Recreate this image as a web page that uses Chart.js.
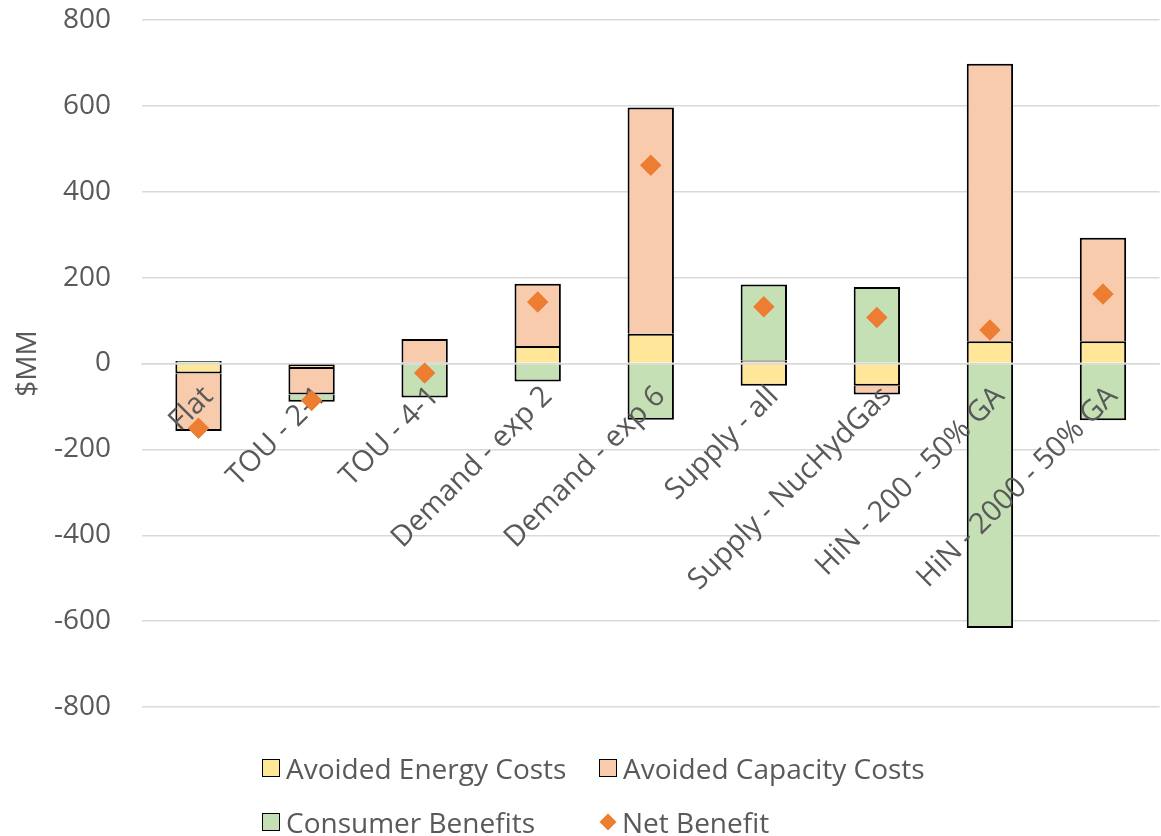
<!DOCTYPE html>
<html>
<head>
<meta charset="utf-8">
<script src="https://cdn.jsdelivr.net/npm/chart.js@4"></script>
<style>
  html, body { margin: 0; padding: 0; background: #fff; overflow: hidden; }
  #wrap { position: relative; width: 1170px; height: 836px; }
  #legend { position: absolute; left: 0; top: 0; width: 1161px; height: 836px; pointer-events: none;
            font-family: "Open Sans"; font-size: 28px; color: #595959; }
  .item { position: absolute; display: flex; align-items: center; white-space: nowrap; height: 36px; }
  .box { width: 18px; height: 18px; border: 1.5px solid #000; box-sizing: border-box; margin-right: 6px; }
  .diamond { width: 12px; height: 12px; transform: rotate(45deg); margin: 0 8px 0 3px; }
</style>
</head>
<body>
<div id="wrap">
  <canvas id="chart"></canvas>
  <div id="legend"></div>
</div>
<script>
const categories = ['Flat', 'TOU - 2-1', 'TOU - 4-1', 'Demand - exp 2', 'Demand - exp 6',
  'Supply - all', 'Supply - NucHydGas', 'HiN - 200 - 50% GA', 'HiN - 2000 - 50% GA'];
const avoidedEnergy = [-23, -13, 3, 41, 69, -52, -52, 52, 52];
const avoidedCapacity = [-134, -59, 54, 145, 527, 7, -20, 646, 241];
const consumerBenefits = [6, -17, -79, -42, -131, 177, 178, -616, -132];
const netBenefit = [-151, -86, -22, 143, 462, 132, 107, 78, 162];
const yTicks = [-800, -600, -400, -200, 0, 200, 400, 600, 800];

const textColor = '#595959';
const tickFont = { family: 'Open Sans', size: 28 };
const barSeries = [avoidedEnergy, avoidedCapacity, consumerBenefits];

// outline each stack once: segments stacked on another one drop their base edge,
// and at zero the grey axis line does the job when both directions are used
function segmentBorder(ctx) {
  const i = ctx.dataIndex;
  const d = ctx.datasetIndex;
  const v = barSeries[d][i];
  const s = Math.sign(v);
  const column = barSeries.map(arr => Math.sign(arr[i]));
  const below = column.slice(0, d).some(x => x === s);
  const opposite = column.some(x => x === -s);
  const base = (below || opposite) ? 0 : 2;
  return v >= 0
    ? { top: 2, right: 2, bottom: base, left: 2 }
    : { top: base, right: 2, bottom: 2, left: 2 };
}

function barSet(label, data, color) {
  return {
    type: 'bar',
    label: label,
    data: data,
    backgroundColor: color,
    borderColor: '#000',
    borderWidth: segmentBorder,
    borderSkipped: false,
    barPercentage: 0.41,
    categoryPercentage: 1,
    stack: 'costs',
    order: 1
  };
}

const datasets = [
  barSet('Avoided Energy Costs', avoidedEnergy, '#FFE699'),
  barSet('Avoided Capacity Costs', avoidedCapacity, '#F8CBAD'),
  barSet('Consumer Benefits', consumerBenefits, '#C5E0B4'),
  {
    type: 'line',
    label: 'Net Benefit',
    data: netBenefit,
    showLine: false,
    pointStyle: 'rectRot',
    pointRadius: 10.5,
    pointHoverRadius: 10.5,
    backgroundColor: '#ED7D31',
    borderColor: '#ED7D31',
    borderWidth: 0,
    stack: 'net',
    order: 0
  }
];

// diamonds sit on top of the category labels
const pointsOnTop = {
  id: 'pointsOnTop',
  afterDraw(chart) {
    chart.getDatasetMeta(3).controller.draw();
  }
};

new Chart(document.getElementById('chart'), {
  data: { labels: categories, datasets: datasets },
  plugins: [pointsOnTop],
  options: {
    responsive: true,
    maintainAspectRatio: false,
    animation: false,
    layout: { padding: { top: 20, left: 0, right: 1, bottom: 129 } },
    plugins: {
      legend: { display: false },
      tooltip: { enabled: false }
    },
    scales: {
      x: {
        stacked: true,
        position: { y: 0 },
        offset: true,
        grid: { display: false },
        border: { display: true, color: '#D9D9D9', width: 1.5, z: 1 },
        ticks: {
          z: 1,
          autoSkip: false,
          minRotation: 45,
          maxRotation: 45,
          padding: 8,
          labelOffset: 10,
          color: textColor,
          font: { family: 'Open Sans', size: 29 }
        }
      },
      y: {
        stacked: true,
        min: -800,
        max: 800,
        afterBuildTicks(scale) {
          scale.ticks = yTicks.map(v => ({ value: v }));
        },
        afterFit(scale) {
          scale.width = 142;
        },
        grid: { color: '#D9D9D9', lineWidth: 1.5, drawTicks: true, tickLength: 31, tickColor: 'rgba(0,0,0,0)' },
        border: { display: false },
        ticks: { padding: 0, color: textColor, font: tickFont },
        title: {
          display: true,
          text: '$MM',
          color: textColor,
          font: tickFont,
          padding: { top: 11, bottom: 0 }
        }
      }
    }
  }
});

// legend laid out in two columns like the original
const legendEl = document.getElementById('legend');
const legendPos = [[262, 750], [599, 750], [262, 804], [599, 804]];
datasets.forEach((ds, i) => {
  const item = document.createElement('div');
  item.className = 'item';
  item.style.left = legendPos[i][0] + 'px';
  item.style.top = legendPos[i][1] + 'px';
  const mark = document.createElement('span');
  mark.className = ds.type === 'line' ? 'diamond' : 'box';
  mark.style.background = ds.backgroundColor;
  const txt = document.createElement('span');
  txt.textContent = ds.label;
  item.appendChild(mark);
  item.appendChild(txt);
  legendEl.appendChild(item);
});
</script>
</body>
</html>
